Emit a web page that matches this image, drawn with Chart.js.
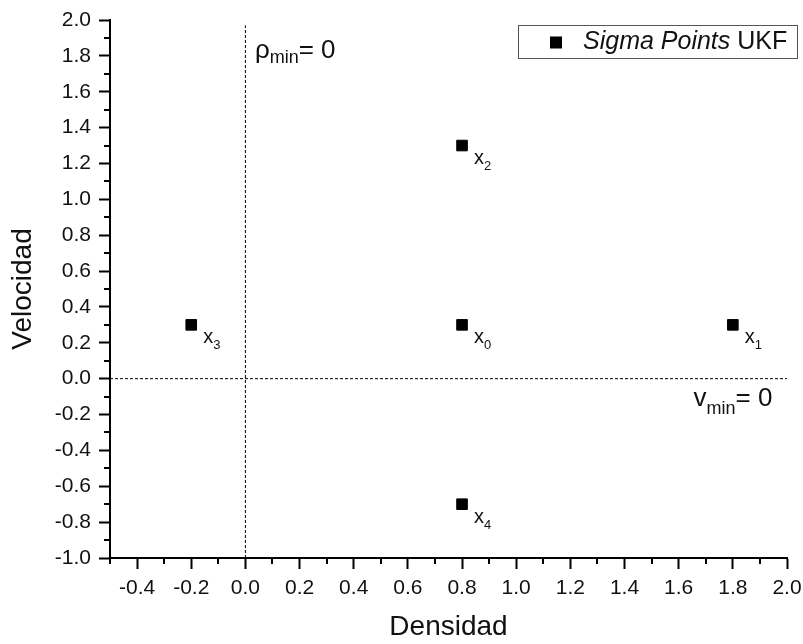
<!DOCTYPE html>
<html lang="es">
<head>
    <meta charset="UTF-8">
    <title>Sigma Points UKF</title>
    <script src="https://cdn.jsdelivr.net/npm/chart.js"></script>
    <style>
        html, body { margin: 0; padding: 0; background: #fff; }
        canvas { display: block; }
    </style>
</head>
<body>
    <canvas id="sigmaChart" width="803" height="644"></canvas>

    <script>
        // Sigma points (densidad, velocidad) and their subscripts
        const sigmaX = [0.8, 1.8, 0.8, -0.2, 0.8];
        const sigmaY = [0.3, 0.3, 1.3, 0.3, -0.7];
        const sigmaNames = ['0', '1', '2', '3', '4'];

        // Reference lines rho_min = 0 and v_min = 0
        const rhoLineX = [0, 0];
        const rhoLineY = [-1.0, 1.97];
        const vLineX = [-0.5, 2.0];
        const vLineY = [0, 0];

        // Axis ranges
        const xRange = [-0.5, 2.0];
        const yRange = [-1.0, 2.0];
        const tickStep = 0.1;

        const FONT = "'Liberation Sans', Arial, sans-serif";

        const isMajor = v => Math.round(v * 10) % 2 === 0;

        function toPoints(xs, ys) {
            return xs.map((x, i) => ({ x: x, y: ys[i] }));
        }

        // draws "base" with a subscript and an optional trailing text
        function drawSub(ctx, x, y, base, sub, rest, size, subSize, subDrop) {
            ctx.font = size + 'px ' + FONT;
            ctx.fillText(base, x, y);
            x += ctx.measureText(base).width;
            ctx.font = subSize + 'px ' + FONT;
            ctx.fillText(sub, x, y + subDrop);
            x += ctx.measureText(sub).width;
            if (rest) {
                ctx.font = size + 'px ' + FONT;
                ctx.fillText(rest, x, y);
            }
        }

        const extrasPlugin = {
            id: 'extras',
            afterDraw(chart) {
                const ctx = chart.ctx;
                const xs = chart.scales.x;
                const ys = chart.scales.y;
                const area = chart.chartArea;
                ctx.save();

                // minor ticks
                ctx.strokeStyle = '#000';
                ctx.lineWidth = 2;
                xs.ticks.forEach(t => {
                    if (isMajor(t.value)) return;
                    const px = Math.round(xs.getPixelForValue(t.value));
                    ctx.beginPath();
                    ctx.moveTo(px, area.bottom);
                    ctx.lineTo(px, area.bottom + 6);
                    ctx.stroke();
                });
                ys.ticks.forEach(t => {
                    if (isMajor(t.value)) return;
                    const py = Math.round(ys.getPixelForValue(t.value));
                    ctx.beginPath();
                    ctx.moveTo(area.left, py);
                    ctx.lineTo(area.left - 6, py);
                    ctx.stroke();
                });

                // point labels x_i
                ctx.fillStyle = '#111';
                ctx.textBaseline = 'middle';
                ctx.textAlign = 'left';
                sigmaX.forEach((v, i) => {
                    const px = xs.getPixelForValue(v) + 12;
                    const py = ys.getPixelForValue(sigmaY[i]) + 13;
                    drawSub(ctx, px, py, 'x', sigmaNames[i], '', 20, 13, 8);
                });

                // rho_min = 0
                drawSub(ctx, xs.getPixelForValue(0.035), ys.getPixelForValue(1.83),
                    '\u03C1', 'min', '= 0', 26, 18, 8);
                // v_min = 0
                drawSub(ctx, xs.getPixelForValue(1.655), ys.getPixelForValue(-0.115),
                    'v', 'min', '= 0', 26, 18, 10);

                // legend box
                const bx = area.right - 269, by = area.top + 5, bw = 279, bh = 33;
                ctx.strokeStyle = '#555';
                ctx.lineWidth = 1;
                ctx.strokeRect(bx + 0.5, by + 0.5, bw, bh);
                ctx.fillStyle = '#000';
                ctx.fillRect(bx + 32, by + bh / 2 - 5, 12, 12);
                ctx.fillStyle = '#111';
                ctx.font = 'italic 25px ' + FONT;
                const tx = bx + 65;
                ctx.fillText('Sigma Points', tx, by + bh / 2 + 1);
                const w = ctx.measureText('Sigma Points ').width;
                ctx.font = '25px ' + FONT;
                ctx.fillText('UKF', tx + w, by + bh / 2 + 1);

                ctx.restore();
            }
        };

        const tickColor = c => isMajor(c.tick.value) ? '#000' : 'rgba(0,0,0,0)';
        const tickLabel = v => isMajor(v) ? v.toFixed(1) : '';

        const ctx = document.getElementById('sigmaChart').getContext('2d');
        new Chart(ctx, {
            type: 'scatter',
            data: {
                datasets: [
                    {
                        label: 'Sigma Points UKF',
                        data: toPoints(sigmaX, sigmaY),
                        pointStyle: 'rect',
                        pointRadius: 7.5,
                        pointBorderWidth: 1,
                        backgroundColor: '#000',
                        borderColor: '#000'
                    },
                    {
                        type: 'line',
                        data: toPoints(rhoLineX, rhoLineY),
                        borderColor: '#000',
                        borderWidth: 1,
                        borderDash: [3, 2],
                        pointRadius: 0
                    },
                    {
                        type: 'line',
                        data: toPoints(vLineX, vLineY),
                        borderColor: '#000',
                        borderWidth: 1,
                        borderDash: [3, 2],
                        pointRadius: 0
                    }
                ]
            },
            options: {
                responsive: false,
                animation: false,
                layout: { padding: { top: 20, right: 16, left: 0, bottom: 0 } },
                plugins: {
                    legend: { display: false },
                    tooltip: { enabled: false }
                },
                scales: {
                    x: {
                        type: 'linear',
                        min: xRange[0],
                        max: xRange[1],
                        afterFit: s => {
                            s.height = 86;
                            s.paddingLeft = 0;
                            s.paddingRight = 0;
                        },
                        ticks: {
                            stepSize: tickStep,
                            autoSkip: false,
                            maxRotation: 0,
                            padding: 7,
                            color: '#111',
                            font: { family: FONT, size: 21 },
                            callback: tickLabel
                        },
                        grid: {
                            drawOnChartArea: false,
                            tickLength: 11,
                            tickWidth: 2,
                            tickColor: tickColor
                        },
                        border: { color: '#000', width: 2 },
                        title: {
                            display: true,
                            text: 'Densidad',
                            color: '#111',
                            font: { family: FONT, size: 28 },
                            padding: { top: 0, bottom: 0 }
                        }
                    },
                    y: {
                        type: 'linear',
                        min: yRange[0],
                        max: yRange[1],
                        afterFit: s => {
                            s.width = 110;
                            s.paddingTop = 0;
                            s.paddingBottom = 0;
                        },
                        ticks: {
                            stepSize: tickStep,
                            autoSkip: false,
                            padding: 8,
                            color: '#111',
                            font: { family: FONT, size: 21 },
                            callback: tickLabel
                        },
                        grid: {
                            drawOnChartArea: false,
                            tickLength: 11,
                            tickWidth: 2,
                            tickColor: tickColor
                        },
                        border: { color: '#000', width: 2 },
                        title: {
                            display: true,
                            text: 'Velocidad',
                            color: '#111',
                            font: { family: FONT, size: 28 },
                            padding: { top: 6, bottom: 0 }
                        }
                    }
                }
            },
            plugins: [extrasPlugin]
        });
    </script>
</body>
</html>
